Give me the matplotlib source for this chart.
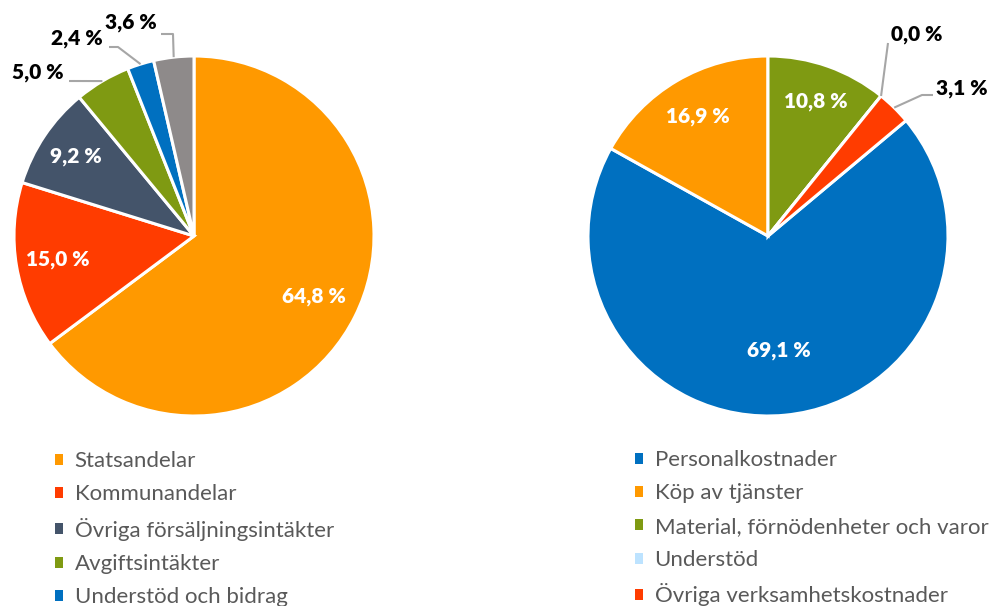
import matplotlib
matplotlib.use("Agg")
import matplotlib.pyplot as plt
import numpy as np
from matplotlib.patches import Patch

# ---- data ----
left_labels = ["Statsandelar", "Kommunandelar", "Övriga försäljningsintäkter",
               "Avgiftsintäkter", "Understöd och bidrag", "Övriga intäkter"]
left_values = [64.8, 15.0, 9.2, 5.0, 2.4, 3.6]
left_colors = ["#FF9900", "#FF3C00", "#44546A", "#7F9A12", "#0070C0", "#8E8A8A"]
left_legend_n = 5  # entries visible in the picture

right_labels = ["Personalkostnader", "Köp av tjänster", "Material, förnödenheter och varor",
                "Understöd", "Övriga verksamhetskostnader"]
right_values = [69.1, 16.9, 10.8, 0.0, 3.1]
right_colors = ["#0070C0", "#FF9900", "#7F9A12", "#BDE3FF", "#FF3C00"]

W, H = 991, 606
FONT = ["Lato", "DejaVu Sans"]
plt.rcParams['font.family'] = FONT

fig = plt.figure(figsize=(W / 100, H / 100), dpi=100)
LBL_SIZE = 15


def fmt(v):
    return f"{v:.1f}".replace(".", ",") + " %"


def pie_axes(cx, cy, R):
    ax = fig.add_axes([(cx - R) / W, (H - cy - R) / H, 2 * R / W, 2 * R / H])
    return ax


def to_data(px, py, cx, cy, R):
    return (px - cx) / R, (cy - py) / R


def draw_pie(cx, cy, R, values, colors, startangle, inside, outside):
    ax = pie_axes(cx, cy, R)
    wedges, _ = ax.pie(values, colors=colors, startangle=startangle, counterclock=False,
                       radius=1, wedgeprops=dict(edgecolor="white", linewidth=2.2))
    for w in wedges:
        w.set_clip_on(False)
    ax.set_xlim(-1, 1)
    ax.set_ylim(-1, 1)
    ax.axis("off")
    for i, dist in inside.items():
        w = wedges[i]
        th = np.deg2rad((w.theta1 + w.theta2) / 2)
        ax.text(dist * np.cos(th), dist * np.sin(th), fmt(values[i]), color="white",
                fontsize=LBL_SIZE, fontweight="heavy", ha="center", va="center")
    for i, (pts, tx, ty, ha) in outside.items():
        w = wedges[i]
        th = np.deg2rad((w.theta1 + w.theta2) / 2)
        xs = [to_data(px, py, cx, cy, R)[0] for px, py in pts] + [np.cos(th)]
        ys = [to_data(px, py, cx, cy, R)[1] for px, py in pts] + [np.sin(th)]
        ax.plot(xs, ys, color="#A6A6A6", lw=1.5, clip_on=False, solid_capstyle="butt")
        x, y = to_data(tx, ty, cx, cy, R)
        ax.text(x, y, fmt(values[i]), color="black", fontsize=LBL_SIZE, fontweight="heavy",
                ha=ha, va="center")
    return ax, wedges


# Left pie
lcx, lcy, lR = 194, 236, 180
axl, wl = draw_pie(lcx, lcy, lR, left_values, left_colors, 90,
                   inside={0: 0.745, 1: 0.77, 2: 0.79},
                   outside={3: ([(69, 81)], 64, 73, "right"),
                            4: ([(109, 47), (118, 47)], 103, 39, "right"),
                            5: ([(161, 34), (173, 34)], 157, 23, "right")})

# Right pie
rcx, rcy, rR = 768, 236, 180
start_r = 90 - 360 * (sum(right_values[2:]) / sum(right_values))
axr, wr = draw_pie(rcx, rcy, rR, right_values, right_colors, start_r,
                   inside={0: 0.64, 1: 0.77, 2: 0.79},
                   outside={3: ([(888, 43)], 891, 35, "left"),
                            4: ([(933, 95), (922, 95)], 936, 89, "left")})


def make_legend(labels, colors, x_px, y_top_px):
    handles = [Patch(facecolor=c, edgecolor="none") for c in colors]
    leg = fig.legend(handles, labels, loc="upper left",
                     bbox_to_anchor=(x_px / W, 1 - y_top_px / H),
                     frameon=False, fontsize=16, handlelength=0.38, handleheight=0.38,
                     handletextpad=0.5, labelspacing=0.6, borderpad=0, borderaxespad=0)
    for t in leg.get_texts():
        t.set_color("#595959")
    return leg


make_legend(left_labels[:left_legend_n], left_colors[:left_legend_n], 55, 451)
make_legend(right_labels, right_colors, 635, 450)

fig.savefig("out.png", dpi=100, facecolor="white")
